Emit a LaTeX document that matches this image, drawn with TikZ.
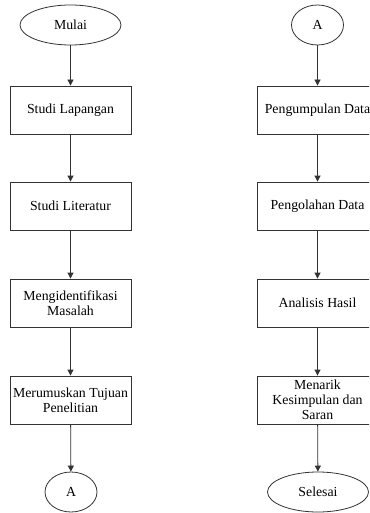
\documentclass[tikz,border=0pt]{standalone}
\usepackage{fontspec}
\setmainfont{Liberation Serif}
\usetikzlibrary{shapes.geometric,arrows.meta}
\tikzset{
  base/.style={draw=black!80, line width=0.8pt, font=\fontsize{13.8}{15}\selectfont, align=center, inner sep=1pt},
  procbox/.style={base, rectangle, minimum width=121pt, minimum height=48pt},
  term/.style={base, ellipse, minimum width=101pt, minimum height=40pt},
  conn/.style={base, ellipse, minimum width=52pt, minimum height=40pt},
  flow/.style={draw=black!80, line width=0.8pt, -{Triangle[length=6pt,width=6pt]}}
}
\begin{document}
\begin{tikzpicture}[x=1pt,y=-1pt]
\clip (0,0) rectangle (369,513);
\fill[white] (0,0) rectangle (369,513);
% left column
\node[term] (mulai) at (70.5,25) {Mulai};
\node[procbox] (lap) at (70.5,110) {Studi Lapangan};
\node[procbox] (lit) at (70.5,206) {Studi Literatur};
\node[procbox] (ident) at (70.5,303) {Mengidentifikasi\\Masalah};
\node[procbox] (tujuan) at (70.5,400) {Merumuskan Tujuan\\Penelitian};
\node[conn] (a1) at (71,492) {A};
% right column
\node[conn] (a2) at (317.5,25) {A};
\node[procbox] (kumpul) at (317.5,110) {Pengumpulan Data};
\node[procbox] (olah) at (317.5,206) {Pengolahan Data};
\node[procbox] (analisis) at (317.5,303) {Analisis Hasil};
\node[procbox] (tarik) at (317.5,400) {Menarik\\Kesimpulan dan\\Saran};
\node[term] (selesai) at (318,492) {Selesai};
% connectors
\draw[flow] (mulai) -- (lap);
\draw[flow] (lap) -- (lit);
\draw[flow] (lit) -- (ident);
\draw[flow] (ident) -- (tujuan);
\draw[flow] (tujuan) -- (a1);
\draw[flow] (a2) -- (kumpul);
\draw[flow] (kumpul) -- (olah);
\draw[flow] (olah) -- (analisis);
\draw[flow] (analisis) -- (tarik);
\draw[flow] (tarik) -- (selesai);
\end{tikzpicture}
\end{document}
